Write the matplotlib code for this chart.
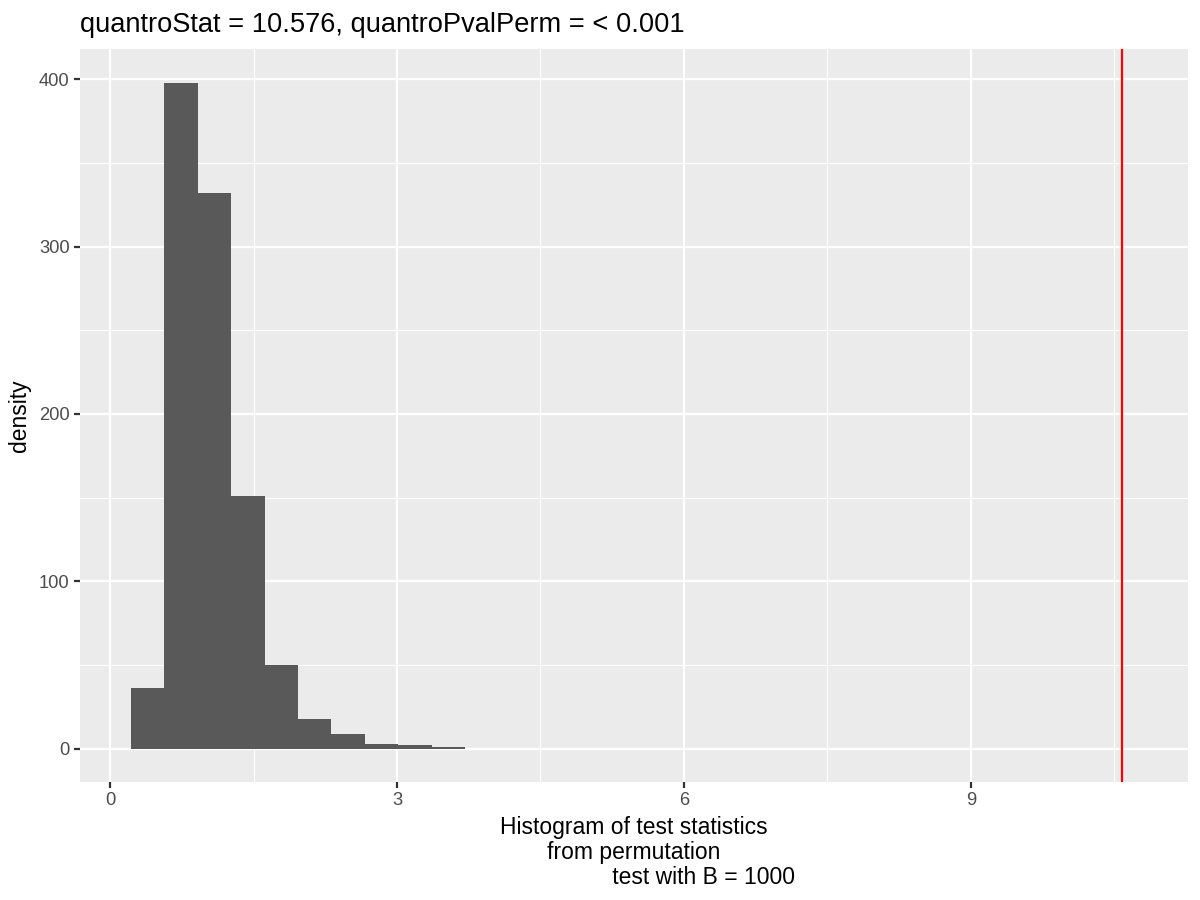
import numpy as np
import matplotlib
matplotlib.use("Agg")
import matplotlib.pyplot as plt

# histogram (bin edges and density per bin)
bin_edges = [0.22, 0.565, 0.915, 1.265, 1.615, 1.965, 2.315, 2.665, 3.015, 3.365, 3.715]
density = [36, 398, 332, 151, 50, 17.6, 8.7, 2.7, 2.1, 0.9]
quantro_stat = 10.576

x_ticks = [0, 3, 6, 9]
y_ticks = [0, 100, 200, 300, 400]

plt.rcParams['font.family'] = ['Liberation Sans', 'DejaVu Sans']

fig = plt.figure(figsize=(8, 6), dpi=150)
ax = fig.add_axes([80/1200, 118/900, 1108/1200, 733.3/900])
ax.set_facecolor("#EBEBEB")

ax.set_xlim(-0.314, 11.27)
ax.set_ylim(-19.9, 418.2)

# grid, ggplot style
for v in [1.5, 4.5, 7.5, 10.5]:
  ax.axvline(v, color="white", lw=0.53, zorder=0)
for v in [50, 150, 250, 350]:
  ax.axhline(v, color="white", lw=0.53, zorder=0)
for v in x_ticks:
  ax.axvline(v, color="white", lw=1.07, zorder=0)
for v in y_ticks:
  ax.axhline(v, color="white", lw=1.07, zorder=0)

edges = np.array(bin_edges)
ax.bar(edges[:-1], density, width=np.diff(edges), align="edge",
       color="#595959", edgecolor="none", zorder=2)

ax.axvline(quantro_stat, color="red", lw=1.07, zorder=3)

for s in ax.spines.values():
  s.set_visible(False)

ax.set_xticks(x_ticks)
ax.set_yticks(y_ticks)
ax.tick_params(axis="both", length=2.75, width=1.07, color="#333333",
               labelcolor="#4D4D4D", labelsize=8.8, pad=2.2)

ax.set_ylabel("density", fontsize=11, labelpad=4)
ax.set_xlabel("Histogram of test statistics\nfrom permutation\n"
              + " " * 22 + "test with B = 1000",
              fontsize=11, labelpad=3, linespacing=1.12)
ax.set_title("quantroStat = 10.576, quantroPvalPerm = < 0.001",
             fontsize=13.1, loc="left", pad=8)

fig.savefig("out.png", dpi=150)
